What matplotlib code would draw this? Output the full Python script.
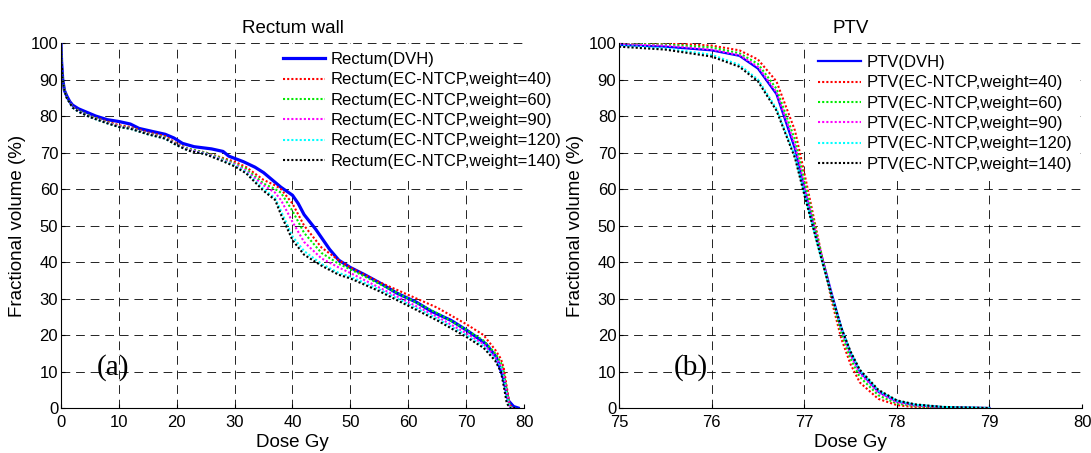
import numpy as np
import matplotlib.pyplot as plt

plt.rcParams["font.family"] = ["Liberation Sans", "DejaVu Sans"]

# ---- Rectum wall (a) ----
rect_dvh_dose = [0, 0.1, 0.3, 0.6, 1, 1.5, 2, 3, 4.5, 6, 8, 10, 12, 13.5, 16, 18, 19.5, 21, 23,
                 26, 28, 29, 31.5, 33.5, 35, 36.5, 38, 40, 41, 42, 44, 46.4, 48, 50, 52.5,
                 55.4, 58, 61.4, 64, 67.4, 70.4, 73.4, 75.2, 76.4, 77.3, 78.2, 79]
rect_dvh_vol = [100, 95, 90, 87, 85.5, 84, 83, 82, 81, 80, 79, 78.5, 77.8, 76.6, 75.7, 75, 74,
                72.5, 71.6, 71, 70.3, 69, 67.5, 66, 64.5, 62.5, 60.5, 58.3, 56, 53, 49, 43.5,
                40.5, 38.5, 36.5, 34, 31.5, 29, 26.5, 24, 21, 17.6, 14, 8.5, 2, 0.4, 0]

rect_dose = [0, 0.1, 0.3, 0.6, 1, 2, 3, 5, 8, 10, 12, 15, 18, 20, 22, 25, 28, 30, 32, 35, 37,
             38, 40, 42, 45, 48, 50, 55, 60, 65, 70, 73, 75, 76, 76.5, 77, 77.5, 78, 78.5]
rect_w40 = [100, 95, 90, 87, 85, 82.5, 81.5, 80, 78.5, 77.5, 77, 75.5, 74.5, 72.5, 71, 70, 68.5,
            67.5, 66, 62.5, 61, 60, 56, 50, 44, 40.5, 38.5, 34.5, 31, 27.5, 23, 20, 16, 13.5,
            11, 6, 1, 0, 0]
rect_w60 = [100, 95, 90, 87, 85, 82.5, 81.5, 80, 78.3, 77.3, 76.8, 75.3, 74.2, 72.3, 71, 70,
            68.3, 67, 65.5, 61.5, 60, 59, 54, 48, 42.5, 39.5, 38, 34, 30, 26, 21.5, 18.5, 15,
            12.5, 10, 5, 1, 0, 0]
rect_w90 = [100, 95, 90, 87, 85, 82.5, 81.3, 79.8, 78.2, 77.2, 76.7, 75.2, 74, 72.2, 70.8, 69.8,
            68, 66.8, 65, 61, 59, 57, 51, 45.5, 41, 38.5, 37, 33, 29, 25, 20.5, 17.5, 14, 11.5,
            9, 4.5, 0.5, 0, 0]
rect_w120 = [100, 95, 90, 87, 85, 82.3, 81.2, 79.7, 78, 77, 76.5, 75, 73.8, 72, 70.6, 69.6,
             67.8, 66.5, 64.6, 60, 57.5, 54, 47, 43, 39.5, 37, 36, 32.5, 28.5, 24.5, 20, 17,
             13.5, 11, 8, 3, 0.2, 0, 0]
rect_w140 = [100, 95, 90, 87, 85, 82.3, 81.2, 79.7, 78, 77, 76.5, 75, 73.8, 72, 70.5, 69.5,
             67.6, 66.2, 64.3, 59.5, 57, 53, 46, 42, 39, 36.5, 35.5, 32, 28, 24, 19.5, 16.5,
             13, 10, 6, 1.5, 0, 0, 0]

# ---- PTV (b) ----
ptv_dose = [75, 75.5, 76, 76.3, 76.5, 76.7, 76.9, 77.0, 77.1, 77.2, 77.3, 77.4, 77.5, 77.6,
            77.8, 78, 78.2, 78.5, 79]
ptv_dvh = [99.5, 99, 98, 96.5, 93, 86, 71, 60, 50, 40.5, 31, 22, 15, 10, 4.5, 1.8, 0.8, 0.2, 0]
ptv_w40 = [100, 100, 99.3, 98, 95.5, 89.5, 76, 64.5, 52.5, 40.5, 29, 19, 12, 7, 2.5, 0.8, 0.2, 0, 0]
ptv_w60 = [99.8, 99.6, 98.8, 97.2, 94.3, 87.5, 73.5, 62.5, 51.5, 40.5, 30, 20.5, 13.5, 8.5, 3.5,
           1.2, 0.5, 0.1, 0]
ptv_w90 = [99.7, 99.3, 98.2, 96.7, 93.5, 86.5, 72, 61, 50.5, 40.5, 30.5, 21.5, 14.5, 9.5, 4.2,
           1.6, 0.7, 0.2, 0]
ptv_w120 = [99.3, 98.5, 96.8, 94, 90, 82, 69, 59, 49, 39.5, 30.5, 22, 15.3, 10.3, 4.8, 2, 0.9,
            0.3, 0]
ptv_w140 = [99, 98.2, 96.3, 93.5, 89.5, 81.5, 68.5, 58.5, 49, 39.5, 30.5, 22, 15.5, 10.5, 5, 2.1,
            1, 0.3, 0]

weights = [40, 60, 90, 120, 140]
colors = ["#ff0000", "#00ee00", "#ff00ff", "#00ffff", "#000000"]

DOT = (0, (1, 1))
SERIF = ["Liberation Serif", "DejaVu Serif"]


def style_axes(ax, xlim, xticks):
    ax.set_xlim(*xlim)
    ax.set_ylim(0, 100)
    ax.set_xticks(xticks)
    ax.set_yticks(range(0, 101, 10))
    for s in ("top", "right"):
        ax.spines[s].set_visible(False)
    ax.tick_params(direction="in", length=3, labelsize=12, colors="black")
    ax.tick_params(axis="x", pad=5)
    ax.tick_params(axis="y", pad=2)
    ax.grid(True, color="black", linewidth=0.6, linestyle=(0, (10.5, 7)))
    ax.set_axisbelow(True)
    ax.set_xlabel("Dose Gy", fontsize=13.5, labelpad=3)
    ax.set_ylabel("Fractional volume (%)", fontsize=13.5, labelpad=3)


def add_legend(ax, anchor):
    leg = ax.legend(loc="upper left", bbox_to_anchor=anchor, fontsize=12,
                    handlelength=2.55, handletextpad=0.33, labelspacing=0.32,
                    borderaxespad=0, borderpad=0.48, frameon=True, fancybox=False)
    leg.get_frame().set_facecolor("white")
    leg.get_frame().set_edgecolor("none")
    leg.get_frame().set_alpha(1)
    return leg


fig = plt.figure(figsize=(10.91, 4.53), dpi=100)
ax1 = fig.add_axes([0.0559, 0.0993, 0.4244, 0.8057])
ax2 = fig.add_axes([0.5674, 0.0993, 0.4244, 0.8057])

# left panel
ax1.plot(rect_dvh_dose, rect_dvh_vol, color="#0000ff", lw=2.3, label="Rectum(DVH)")
for w, c, v in zip(weights, colors, [rect_w40, rect_w60, rect_w90, rect_w120, rect_w140]):
    ax1.plot(rect_dose, v, color=c, lw=1.5, linestyle=DOT,
             label=f"Rectum(EC-NTCP,weight={w})")
style_axes(ax1, (0, 80), range(0, 81, 10))
ax1.set_title("Rectum wall", fontsize=13.5, pad=7)
ax1.text(9.0, 11, "(a)", family=SERIF, fontsize=21, ha="center", va="center")
add_legend(ax1, (0.462, 0.997))

# right panel
ax2.plot(ptv_dose, ptv_dvh, color="#0000ff", lw=1.6, label="PTV(DVH)")
for w, c, v in zip(weights, colors, [ptv_w40, ptv_w60, ptv_w90, ptv_w120, ptv_w140]):
    ax2.plot(ptv_dose, v, color=c, lw=1.5, linestyle=DOT,
             label=f"PTV(EC-NTCP,weight={w})")
style_axes(ax2, (75, 80), range(75, 81))
ax2.set_title("PTV", fontsize=13.5, pad=7)
ax2.text(75.77, 11, "(b)", family=SERIF, fontsize=21, ha="center", va="center")
add_legend(ax2, (0.413, 0.989))

fig.savefig("out.png", dpi=100)
